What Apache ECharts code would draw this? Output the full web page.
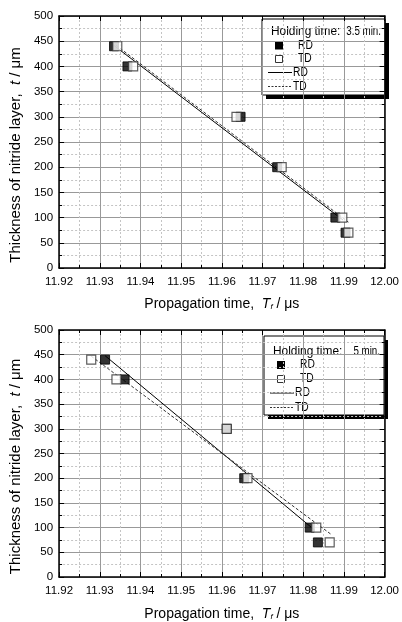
<!DOCTYPE html>
<html>
<head>
<meta charset="utf-8">
<script src="https://cdn.jsdelivr.net/npm/echarts@6/dist/echarts.min.js"></script>
<style>
html,body{margin:0;padding:0;background:#fff;}
#c{width:402px;height:622px;}
</style>
</head>
<body>
<div id="c"></div>
<script>
// ---- Data ----
var yValues = [440, 400, 300, 200, 100, 70];
// Holding time 3.5 min
var top_RD_x = [11.9335, 11.9368, 11.9646, 11.9736, 11.9879, 11.9904];
var top_TD_x = [11.9343, 11.9382, 11.9636, 11.9747, 11.9896, 11.9911];
var top_RDfit_x = [11.9334, 11.9898];
var top_RDfit_y = [442, 95];
var top_TDfit_x = [11.9340, 11.9911];
var top_TDfit_y = [442, 91];
// Holding time 5 min
var bot_RD_x = [11.9313, 11.9361, 11.9612, 11.9655, 11.9816, 11.9836];
var bot_TD_x = [11.9279, 11.9341, 11.9612, 11.9663, 11.9832, 11.9865];
var bot_RDfit_x = [11.9313, 11.9828];
var bot_RDfit_y = [448, 95];
var bot_TDfit_x = [11.9279, 11.9869];
var bot_TDfit_y = [447, 86];

var holdLabels = ['3.5 min.', '5 min.'];
var xTicks = {min: 11.92, max: 12.00, interval: 0.01};
var yTicks = {min: 0, max: 500, interval: 50};

function pairs(xs, ys) { return xs.map(function (x, i) { return [x, ys[i]]; }); }

var FONT = "'Liberation Sans', Arial, sans-serif";
var grids = [
  {left: 58, right: 12, top: 16, height: 252},
  {left: 58, right: 12, top: 330, height: 251}
];

var xAxes = [], yAxes = [], series = [];
grids.forEach(function (g, gi) {
  xAxes.push({
    type: 'value', gridIndex: gi, min: xTicks.min, max: xTicks.max, interval: xTicks.interval,
    position: 'bottom',
    name: '{n|Propagation time,  }{i|T}{s|f}{n| / μs}',
    nameLocation: 'middle', nameGap: gi === 0 ? 29 : 30,
    nameTextStyle: {rich: {
      n: {fontFamily: FONT, fontSize: 14, color: '#000'},
      i: {fontFamily: FONT, fontSize: 14, color: '#000', fontStyle: 'italic'},
      s: {fontFamily: FONT, fontSize: 8, color: '#000', fontStyle: 'italic', verticalAlign: 'bottom', padding: [6, 0, 0, 0]}
    }},
    axisLine: {onZero: false, lineStyle: {color: '#000', width: 1.5}},
    axisTick: {inside: true, length: 5, lineStyle: {color: '#000'}},
    minorTick: {show: true, splitNumber: 2, length: 3, lineStyle: {color: '#000'}},
    axisLabel: {fontFamily: FONT, fontSize: 11.5, color: '#000', margin: 8,
      formatter: function (v) { return v.toFixed(2); }},
    splitLine: {show: true, lineStyle: {color: '#999', width: 1}},
    minorSplitLine: {show: true, lineStyle: {color: '#c4c4c4', width: 1, type: [2, 2]}}
  });
  xAxes.push({
    type: 'value', gridIndex: gi, min: xTicks.min, max: xTicks.max, interval: xTicks.interval,
    position: 'top',
    axisLine: {onZero: false, lineStyle: {color: '#000', width: 1.5}},
    axisTick: {inside: true, length: 5, lineStyle: {color: '#000'}},
    minorTick: {show: true, splitNumber: 2, length: 3, lineStyle: {color: '#000'}},
    axisLabel: {show: false}, splitLine: {show: false}
  });
  yAxes.push({
    type: 'value', gridIndex: gi, min: yTicks.min, max: yTicks.max, interval: yTicks.interval,
    position: 'left',
    name: '{n|Thickness of nitride layer,  }{i|t}{n| / μm}',
    nameLocation: 'middle', nameGap: 27, nameRotate: 90,
    nameTextStyle: {padding: [0, 26, 0, 0], rich: {
      n: {fontFamily: FONT, fontSize: 15, color: '#000'},
      i: {fontFamily: FONT, fontSize: 15, color: '#000', fontStyle: 'italic'}
    }},
    axisLine: {onZero: false, lineStyle: {color: '#000', width: 1.5}},
    axisTick: {inside: true, length: 5, lineStyle: {color: '#000'}},
    minorTick: {show: true, splitNumber: 2, length: 3, lineStyle: {color: '#000'}},
    axisLabel: {fontFamily: FONT, fontSize: 11.5, color: '#000', margin: 6},
    splitLine: {show: true, lineStyle: {color: '#999', width: 1}},
    minorSplitLine: {show: true, lineStyle: {color: '#c4c4c4', width: 1, type: [2, 2]}}
  });
  yAxes.push({
    type: 'value', gridIndex: gi, min: yTicks.min, max: yTicks.max, interval: yTicks.interval,
    position: 'right',
    axisLine: {onZero: false, lineStyle: {color: '#000', width: 1.5}},
    axisTick: {inside: true, length: 5, lineStyle: {color: '#000'}},
    minorTick: {show: true, splitNumber: 2, length: 3, lineStyle: {color: '#000'}},
    axisLabel: {show: false}, splitLine: {show: false}
  });
});

var sets = [
  {rd: top_RD_x, td: top_TD_x, rdf: pairs(top_RDfit_x, top_RDfit_y), tdf: pairs(top_TDfit_x, top_TDfit_y)},
  {rd: bot_RD_x, td: bot_TD_x, rdf: pairs(bot_RDfit_x, bot_RDfit_y), tdf: pairs(bot_TDfit_x, bot_TDfit_y)}
];
sets.forEach(function (s, gi) {
  var xi = gi * 2, yi = gi * 2;
  series.push({type: 'line', xAxisIndex: xi, yAxisIndex: yi, data: s.rdf, showSymbol: false, silent: true,
    lineStyle: {color: '#000', width: 1}, z: 3});
  series.push({type: 'line', xAxisIndex: xi, yAxisIndex: yi, data: s.tdf, showSymbol: false, silent: true,
    lineStyle: {color: '#333', width: 1, type: [3, 2]}, z: 3});
  series.push({type: 'scatter', xAxisIndex: xi, yAxisIndex: yi, data: pairs(s.rd, yValues),
    symbol: 'rect', symbolSize: 9, itemStyle: {color: '#000', borderColor: '#000', borderWidth: 1}, z: 4});
  series.push({type: 'scatter', xAxisIndex: xi, yAxisIndex: yi, data: pairs(s.td, yValues),
    symbol: 'rect', symbolSize: 9, itemStyle: {color: '#fff', borderColor: '#333', borderWidth: 1.2}, z: 5});
});

function legendGroup(box, rows, label) {
  var L = box.x, T = box.y, W = box.w, H = box.h;
  function txt(x, y, s, align, sx) {
    return {type: 'text', x: x, y: y, scaleX: sx || 1,
      style: {text: s, textAlign: align || 'left', textVerticalAlign: 'middle',
        fontFamily: FONT, fontSize: 12.5, fill: '#000'}};
  }
  return {
    type: 'group', z: 100, children: [
      {type: 'rect', shape: {x: L + 4, y: T + 4, width: W, height: H}, style: {fill: '#000'}},
      {type: 'rect', shape: {x: L, y: T, width: W, height: H}, style: {fill: '#fff', stroke: '#000', lineWidth: 1}},
      txt(L + 9, T + rows[0], 'Holding time:', 'left', 0.95),
      txt(L + W - 4, T + rows[0], label, 'right', 0.78),
      {type: 'rect', shape: {x: L + 13, y: T + rows[1] - 4, width: 8, height: 8}, style: {fill: '#000'}},
      txt(L + 36, T + rows[1], 'RD', 'left', 0.82),
      {type: 'rect', shape: {x: L + 13.5, y: T + rows[2] - 3.5, width: 7, height: 7}, style: {fill: '#fff', stroke: '#333', lineWidth: 1}},
      txt(L + 36, T + rows[2], 'TD', 'left', 0.82),
      {type: 'line', shape: {x1: L + 6, y1: T + rows[3], x2: L + 30, y2: T + rows[3]}, style: {stroke: '#000', lineWidth: 1}},
      txt(L + 31, T + rows[3], 'RD', 'left', 0.82),
      {type: 'line', shape: {x1: L + 6, y1: T + rows[4], x2: L + 30, y2: T + rows[4]}, style: {stroke: '#333', lineWidth: 1, lineDash: [2, 1.5]}},
      txt(L + 31, T + rows[4], 'TD', 'left', 0.82)
    ]
  };
}

var chart = echarts.init(document.getElementById('c'), null, {renderer: 'canvas'});
chart.setOption({
  backgroundColor: '#fff',
  animation: false,
  grid: grids,
  xAxis: xAxes,
  yAxis: yAxes,
  series: series,
  graphic: [
    legendGroup({x: 262, y: 19, w: 123, h: 76}, [13, 26.5, 40, 53.5, 67.5], holdLabels[0]),
    legendGroup({x: 264, y: 336, w: 120, h: 79}, [15.5, 29, 43, 57, 71.5], holdLabels[1])
  ]
});
</script>
</body>
</html>
